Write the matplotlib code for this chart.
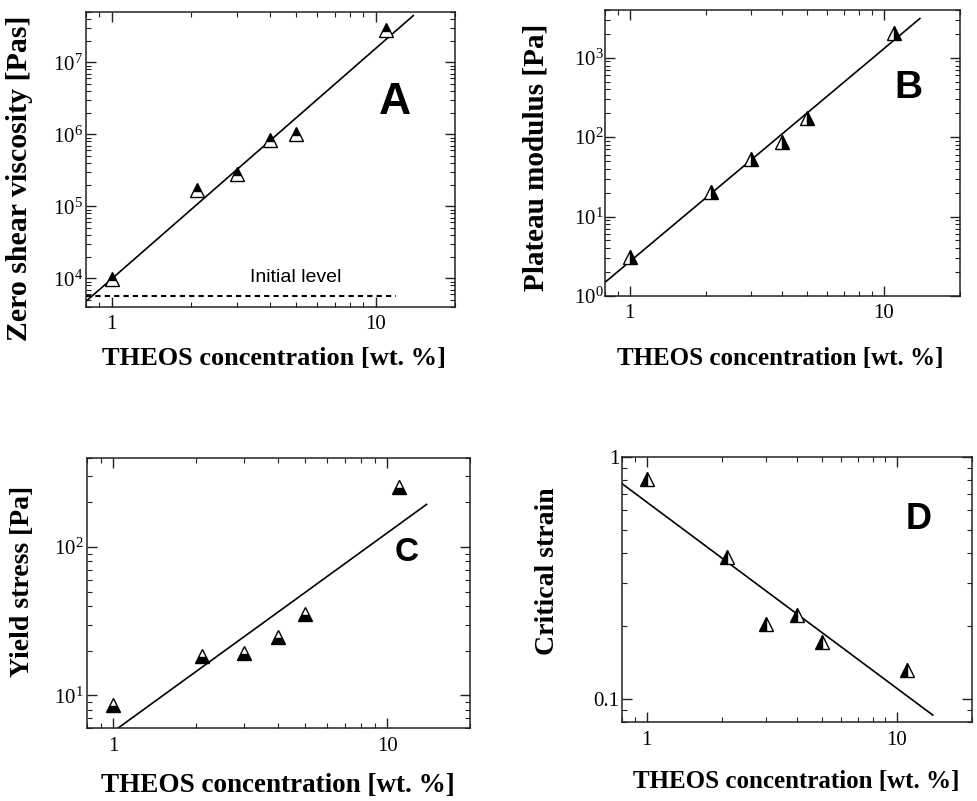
import numpy as np
import matplotlib
matplotlib.use("Agg")
import matplotlib.pyplot as plt
from matplotlib.ticker import LogLocator, FixedLocator, FixedFormatter, NullFormatter, FuncFormatter

plt.rcParams['font.family'] = ['Liberation Serif', 'DejaVu Serif']
plt.rcParams['mathtext.fontset'] = 'custom'
plt.rcParams['mathtext.rm'] = 'Liberation Serif'
plt.rcParams['mathtext.it'] = 'Liberation Serif:italic'
plt.rcParams['mathtext.bf'] = 'Liberation Serif:bold'
plt.rcParams['mathtext.default'] = 'regular'

# ---------------- data ----------------
theos = [1.0, 2.1, 3.0, 4.0, 5.0, 11.0]

viscosity = [9.8e3, 1.67e5, 2.8e5, 8.3e5, 1.02e6, 2.8e7]
visc_fit_amp, visc_fit_exp = 9.8e3, 3.2
initial_level = 5.7e3
initial_level_xmax = 12.0

plateau = [3.1, 20.5, 53.0, 86.0, 172.0, 2075.0]
plat_fit_amp, plat_fit_exp = 2.7, 2.68

yield_stress = [8.6, 18.5, 19.4, 24.7, 35.3, 253.0]
yield_fit_amp, yield_fit_exp = 5.7, 1.34

critical_strain = [0.81, 0.384, 0.203, 0.221, 0.172, 0.131]
strain_fit_amp, strain_fit_exp = 0.65, -0.77

fit_xmin, fit_xmax = 0.8, 13.9

xlabel = "THEOS concentration [wt. %]"

fig = plt.figure(figsize=(9.78, 8.01), dpi=100)

def style_axes(ax, xlim, ylim):
    ax.set_xscale('log')
    ax.set_yscale('log')
    ax.set_xlim(*xlim)
    ax.set_ylim(*ylim)
    for s in ax.spines.values():
        s.set_linewidth(1.1)
        s.set_color('#222222')
    ax.tick_params(which='both', direction='in', top=True, right=True, color='#222222')
    ax.tick_params(which='major', length=7, width=1.0, labelsize=15)
    ax.tick_params(which='minor', length=3.5, width=0.8)
    ax.xaxis.set_major_locator(FixedLocator([1, 10]))
    ax.xaxis.set_major_formatter(FuncFormatter(lambda v, p: "%g" % v))
    ax.xaxis.set_minor_locator(LogLocator(base=10, subs=np.arange(2, 10)))
    ax.xaxis.set_minor_formatter(NullFormatter())
    ax.yaxis.set_minor_locator(LogLocator(base=10, subs=np.arange(2, 10), numticks=20))
    ax.yaxis.set_minor_formatter(NullFormatter())
    ax.tick_params(axis='x', which='major', pad=6)
    ax.tick_params(axis='y', which='major', pad=2)

def plot_panel(ax, y, amp, expo, fill):
    xf = np.logspace(np.log10(fit_xmin), np.log10(fit_xmax), 100)
    ax.plot(xf, amp * xf ** expo, color='black', lw=1.2)
    ax.plot(theos, y, linestyle='none', marker='^', markersize=9.5,
            fillstyle=fill, markerfacecolor='black', markerfacecoloralt='white',
            markeredgecolor='black', markeredgewidth=1.0)

# ---------------- Panel A ----------------
axA = fig.add_axes([0.0879, 0.6167, 0.3773, 0.3683])
style_axes(axA, (0.8, 20), (4e3, 5e7))
axA.yaxis.set_major_locator(LogLocator(base=10, numticks=20))
plot_panel(axA, viscosity, visc_fit_amp, visc_fit_exp, 'top')
axA.plot([0.8, initial_level_xmax], [initial_level, initial_level], color='black',
         lw=1.5, linestyle=(0, (2.5, 2)))
axA.text(0.569, 0.099, "Initial level", transform=axA.transAxes, ha='center', va='center',
         fontsize=14, family='Liberation Sans')
axA.text(0.837, 0.692, "A", transform=axA.transAxes, ha='center', va='center',
         fontsize=32, fontweight='bold', family='Liberation Sans')
axA.set_ylabel("Zero shear viscosity [Pas]", fontsize=21.5, fontweight='bold')
axA.yaxis.set_label_coords(-0.144, 0.435)
axA.set_xlabel(xlabel, fontsize=19, fontweight='bold')
axA.xaxis.set_label_coords(0.51, -0.136)

# ---------------- Panel B ----------------
axB = fig.add_axes([0.6186, 0.6305, 0.363, 0.357])
style_axes(axB, (0.8, 20), (1, 4000))
axB.yaxis.set_major_locator(LogLocator(base=10, numticks=20))
plot_panel(axB, plateau, plat_fit_amp, plat_fit_exp, 'right')
axB.text(0.854, 0.727, "B", transform=axB.transAxes, ha='center', va='center',
         fontsize=28, fontweight='bold', family='Liberation Sans')
axB.set_ylabel("Plateau modulus [Pa]", fontsize=21, fontweight='bold')
axB.yaxis.set_label_coords(-0.155, 0.484)
axB.set_xlabel(xlabel, fontsize=18, fontweight='bold')
axB.xaxis.set_label_coords(0.493, -0.178)
axB.tick_params(axis='y', which='major', pad=1)

# ---------------- Panel C ----------------
axC = fig.add_axes([0.0886, 0.0908, 0.3919, 0.3378])
style_axes(axC, (0.8, 20), (6, 400))
axC.yaxis.set_major_locator(FixedLocator([10, 100]))
plot_panel(axC, yield_stress, yield_fit_amp, yield_fit_exp, 'bottom')
axC.text(0.835, 0.648, "C", transform=axC.transAxes, ha='center', va='center',
         fontsize=24, fontweight='bold', family='Liberation Sans')
axC.set_ylabel("Yield stress [Pa]", fontsize=20, fontweight='bold')
axC.yaxis.set_label_coords(-0.135, 0.544)
axC.set_xlabel(xlabel, fontsize=19.5, fontweight='bold')
axC.xaxis.set_label_coords(0.498, -0.165)

# ---------------- Panel D ----------------
axD = fig.add_axes([0.6363, 0.0983, 0.3579, 0.3316])
style_axes(axD, (0.8, 20), (0.08, 1))
axD.yaxis.set_major_locator(FixedLocator([0.1, 1]))
axD.yaxis.set_major_formatter(FixedFormatter(["0.1", "1"]))
plot_panel(axD, critical_strain, strain_fit_amp, strain_fit_exp, 'left')
axD.text(0.846, 0.762, "D", transform=axD.transAxes, ha='center', va='center',
         fontsize=26, fontweight='bold', family='Liberation Sans')
axD.set_ylabel("Critical strain", fontsize=20, fontweight='bold')
axD.yaxis.set_label_coords(-0.178, 0.568)
axD.set_xlabel(xlabel, fontsize=18, fontweight='bold')
axD.xaxis.set_label_coords(0.497, -0.18)

fig.savefig("out.png", dpi=100)
